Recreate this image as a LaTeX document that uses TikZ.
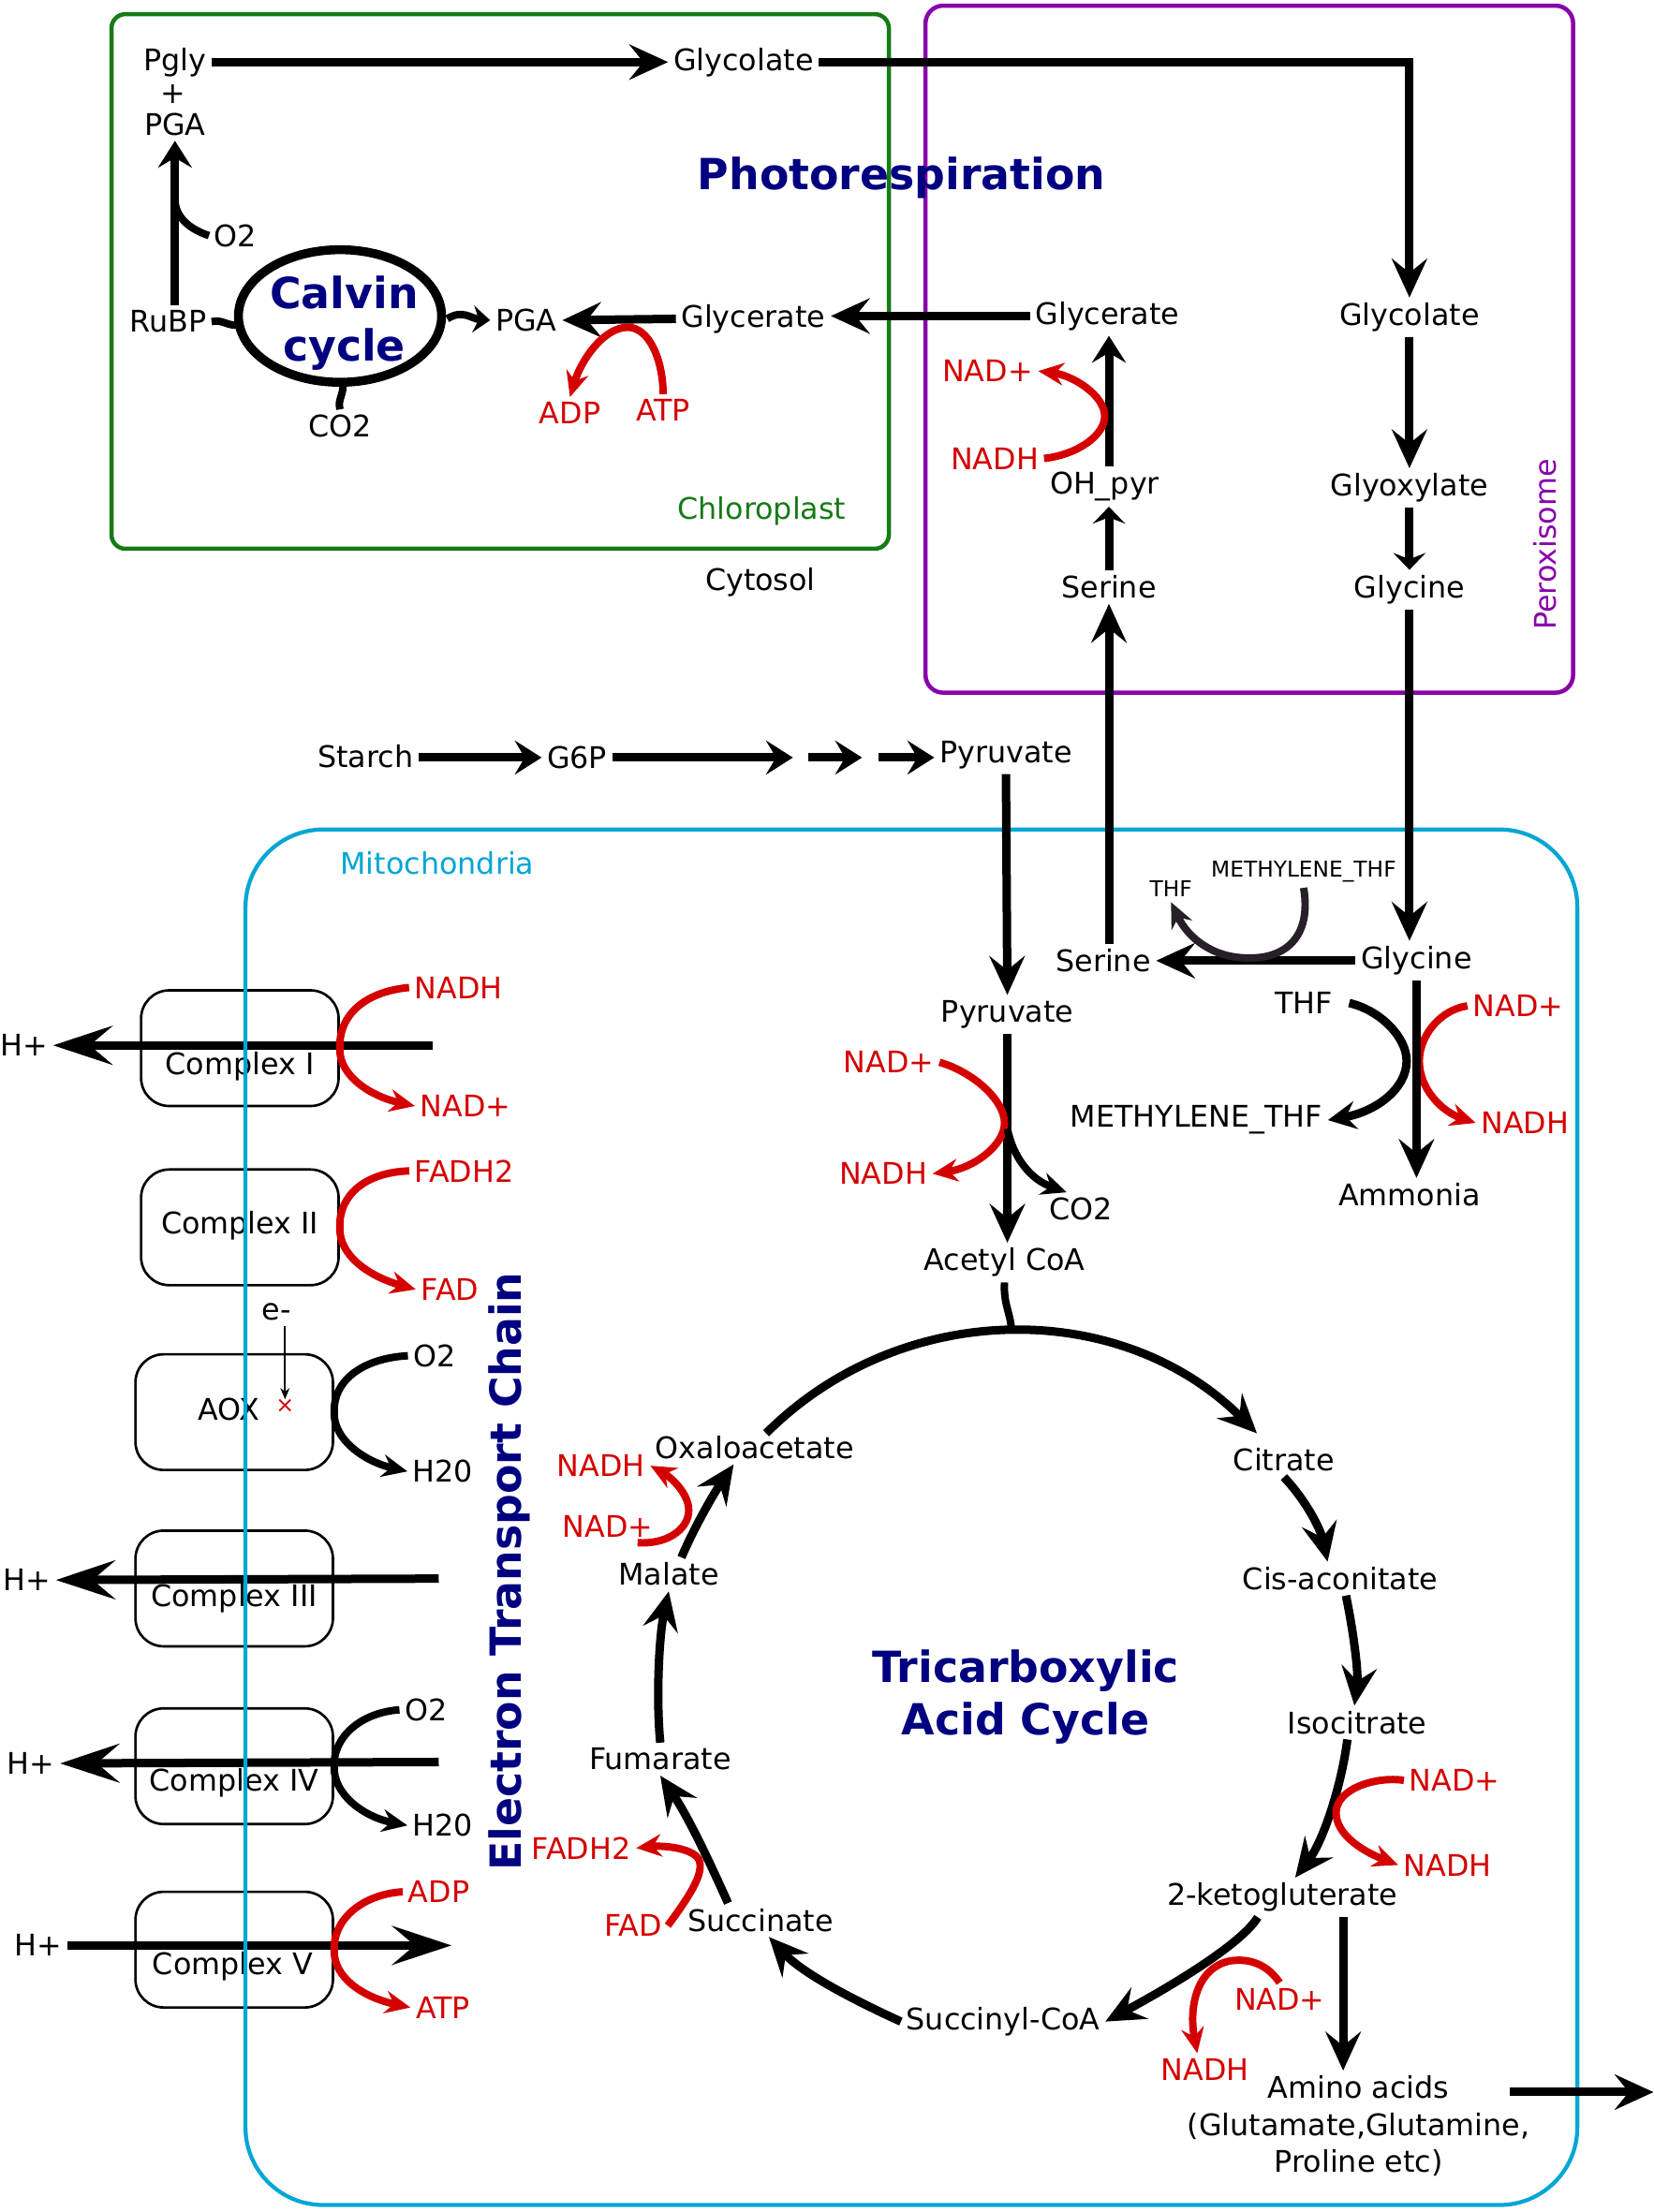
\documentclass[tikz,border=0pt]{standalone}
\usepackage{fontspec}
\setmainfont{DejaVu Sans}
\usetikzlibrary{arrows.meta}
\definecolor{chlgreen}{RGB}{22,122,22}
\definecolor{perpurple}{RGB}{136,0,170}
\definecolor{mitcyan}{RGB}{0,166,212}
\definecolor{navytxt}{RGB}{0,0,128}
\definecolor{redc}{RGB}{212,0,0}
\definecolor{thfarc}{RGB}{40,32,40}
\begin{document}
\begin{tikzpicture}[x=0.2mm,y=-0.2mm,>=Stealth,font=\fontsize{12}{14.8}\selectfont,inner sep=2pt,
  rx/.style={line width=3.4pt,-{Stealth[length=5.5mm,width=5mm,inset=2mm]}},
  rxm/.style={line width=3.4pt,-{Stealth[length=3.8mm,width=4.8mm,inset=1.4mm]}},
  rxs/.style={line width=3.4pt,-{Stealth[length=2.4mm,width=4.6mm,inset=0.9mm]}},
  hx/.style={line width=3.4pt,-{Stealth[length=8.4mm,width=5.5mm,inset=3.2mm]}},
  sx/.style={line width=3pt,-{Stealth[length=3.6mm,width=3.2mm,inset=1.2mm]}},
  rs/.style={sx,draw=redc},
  cof/.style={text=redc},
  stub/.style={line width=3pt},
  bigname/.style={font=\fontsize{17.3}{21}\selectfont\bfseries,text=navytxt,align=center},
  cbox/.style={draw,line width=1pt,rounded corners=4mm,minimum width=28mm,minimum height=16.4mm}]
\useasboundingbox (0,0) rectangle (1172,1568);
\draw[chlgreen,line width=1.7pt,rounded corners=2mm] (79,10) rectangle (630,389);
\draw[perpurple,line width=1.7pt,rounded corners=2.5mm] (656,4) rectangle (1115,491);
% chloroplast
\node (pgly) at (124,44) {Pgly};
\node (plus) at (123,67) {+};
\node (pgaA) at (124,88) {PGA};
\node (glycA) at (527,44) {Glycolate};
\node (rubp) at (119,228) {RuBP};
\node (otwoA) at (167,167) {O2};
\node[bigname] (calvin) at (244,229) {Calvin\\cycle};
\draw[line width=3.6pt] (241,224) ellipse [x radius=14.4mm, y radius=9.4mm];
\node (cotwoA) at (241,302) {CO2};
\node (pgaB) at (373,227) {PGA};
\node (glyrA) at (534,226) {Glycerate};
\node[cof] (adpA) at (404,293) {ADP};
\node[cof] (atpA) at (470,291) {ATP};
\node[text=chlgreen] (chl) at (540,362) {Chloroplast};
\node (cyto) at (539,413) {Cytosol};
\node[bigname] (photo) at (639,126) {Photorespiration};
\draw[rx] (pgly.east) -- (glycA.west);
\draw[rxm] (rubp.north -| pgaA.south) -- (pgaA.south);
\draw[stub] (otwoA.west) .. controls (136,163) and (124,155) .. (124,141);
\draw[stub] (rubp.east) .. controls (158,226) and (162,232) .. (169,230);
\draw[line width=3pt,-{Stealth[length=2.4mm,width=3.8mm,inset=0.8mm]}] (317,226) .. controls (328,219) and (334,226) .. (pgaB.west);
\draw[rx] (glyrA.west) -- (pgaB.east);
\draw[rs] (atpA.north) .. controls (470,255) and (460,232) .. (445,232) .. controls (428,232) and (412,255) .. (adpA.north);
\draw[stub] (cotwoA.north) .. controls (239,283) and (244,280) .. (243,271);
% peroxisome
\node (glyrB) at (785,224) {Glycerate};
\node (glycB) at (999,225) {Glycolate};
\node[cof] (nadpA) at (700,263) {NAD+};
\node[cof] (nadhA) at (705,325) {NADH};
\node (ohpyr) at (783,345) {OH\_pyr};
\node (glyox) at (999,346) {Glyoxylate};
\node (serA) at (786,416) {Serine};
\node (glyA) at (999,418) {Glycine};
\node[text=perpurple,rotate=90] (perox) at (1095,386) {Peroxisome};
\draw[rx] (glycA.east) -| (glycB.north);
\draw[rx] (glyrB.west) -- (glyrB.west -| glyrA.east);
\draw[rxm] (ohpyr.north -| serA) -- (glyrB.south -| serA);
\draw[rxs] (serA.north) -- (ohpyr.south -| serA);
\draw[rs] (nadhA.east) .. controls (765,322) and (783,308) .. (783,295) .. controls (783,280) and (760,266) .. (nadpA.east);
\draw[rx] (glycB.south) -- (glyox.north);
\draw[rxs] (glyox.south) -- (glyA.north);
% cytosol
\node (starch) at (259,536) {Starch};
\node (gsixp) at (409,537) {G6P};
\node (pyrA) at (713,535) {Pyruvate};
\coordinate (gA) at (562,537);
\coordinate (gB) at (573,537);
\coordinate (gC) at (611,537);
\coordinate (gD) at (623,537);
\draw[rxm] (starch.east |- gsixp.west) -- (gsixp.west);
\draw[rxm] (gsixp.east) -- (gA);
\draw[rxm] (gB) -- (gC);
\draw[rxm] (gD) -- (gD -| pyrA.west);
% electron transport chain
\node[cbox] (cI) at (170,743) {};
\node (cIt) at (170,756) {Complex I};
\node[cbox] (cII) at (170,870) {};
\node (cIIt) at (170,869) {Complex II};
\node[cbox] (aox) at (166,1001) {};
\node (aoxt) at (162,999) {AOX};
\node[cbox] (cIII) at (166,1126) {};
\node (cIIIt) at (166,1133) {Complex III};
\node[cbox] (cIV) at (166,1252) {};
\node (cIVt) at (166,1264) {Complex IV};
\node[cbox] (cV) at (166,1382) {};
\node (cVt) at (165,1394) {Complex V};
\node (hI) at (17,741) {H+};
\node (hIII) at (19,1120) {H+};
\node (hIV) at (22,1250) {H+};
\node (hV) at (27,1379) {H+};
\coordinate (eI) at (307,741);
\coordinate (eIII) at (311,1119);
\coordinate (eIV) at (311,1249);
\coordinate (eV) at (320,1379);
\node[cof] (nadhG) at (325,700) {NADH};
\node[cof] (nadpG) at (330,784) {NAD+};
\node[cof] (fadhG) at (329,830) {FADH2};
\node[cof] (fadG) at (319,914) {FAD};
\node (em) at (196,930) {e-};
\node[text=redc,inner sep=0pt,font=\fontsize{9}{10}\selectfont] (xm) at (202,997) {×};
\node (otwoB) at (308,961) {O2};
\node (htwoB) at (314,1043) {H20};
\node (otwoC) at (302,1212) {O2};
\node (htwoC) at (314,1294) {H20};
\node[cof] (adpG) at (311,1341) {ADP};
\node[cof] (atpG) at (314,1423) {ATP};
\node[bigname,rotate=90] (etc) at (361,1114) {Electron Transport Chain};
\draw[hx] (eI) -- (hI.east);
\draw[hx] (eIII) -- (hIII.east);
\draw[hx] (eIV) -- (hIV.east);
\draw[hx] (hV.east) -- (eV);
\draw[rs] (nadhG.west) .. controls (258,703) and (240,720) .. (cI.east) .. controls (240,762) and (262,777) .. (nadpG.west);
\draw[rs] (fadhG.west) .. controls (258,831) and (240,848) .. (cII.east) .. controls (240,890) and (262,905) .. (fadG.west);
\draw[sx] (otwoB.west) .. controls (255,963) and (236,980) .. (aox.east) .. controls (236,1020) and (258,1036) .. (htwoB.west);
\draw[sx] (otwoC.west) .. controls (255,1214) and (236,1232) .. (cIV.east) .. controls (236,1272) and (258,1288) .. (htwoC.west);
\draw[rs] (adpG.west) .. controls (255,1343) and (236,1362) .. (cV.east) .. controls (236,1402) and (258,1416) .. (atpG.west);
\draw[line width=0.6pt,-{Stealth[length=1.6mm,width=1.3mm]}] (em.south -| xm.north) -- (xm.north);
\draw[mitcyan,line width=1.6pt,rounded corners=11mm] (174,588) rectangle (1118,1563);
% mitochondria
\node[text=mitcyan] (mito) at (310,612) {Mitochondria};
\node[font=\fontsize{8.8}{10}\selectfont] (methA) at (924,618) {METHYLENE\_THF};
\node[font=\fontsize{8.8}{10}\selectfont] (thfA) at (830,630) {THF};
\node (serB) at (782,681) {Serine};
\node (glyB) at (1004,681) {Glycine};
\node (thfB) at (924,711) {THF};
\node[cof] (nadpB) at (1076,713) {NAD+};
\node (methB) at (848,794) {METHYLENE\_THF};
\node[cof] (nadhB) at (1081,796) {NADH};
\node (amm) at (999,847) {Ammonia};
\node (pyrB) at (714,719) {Pyruvate};
\node[cof] (nadpC) at (630,753) {NAD+};
\node[cof] (nadhC) at (626,832) {NADH};
\node (cotwoB) at (766,857) {CO2};
\node (acoa) at (712,895) {Acetyl CoA};
\coordinate (pyrfork) at (714,800);
\draw[rx] (glyA.south) -- (glyA.south |- glyB.north);
\draw[rx] (serB.north -| serA) -- (serA.south);
\draw[rx] (pyrA.south) -- (pyrB.north);
\draw[rx] (glyB.west) -- (serB.east);
\draw[sx,draw=thfarc] (methA.south) .. controls (930,665) and (910,680) .. (884,679) .. controls (860,679) and (842,665) .. (thfA.south);
\draw[line width=3.4pt,-{Stealth[length=4mm,width=4mm,inset=1.4mm]}] ([xshift=1.6mm]thfB.east) .. controls (978,716) and (997,735) .. (997,752) .. controls (997,772) and (975,788) .. (methB.east);
\draw[rs] (nadpB.west) .. controls (1020,716) and (1006,735) .. (1006,752) .. controls (1006,772) and (1022,788) .. (nadhB.west);
\draw[rx] (glyB.south) -- (glyB.south |- amm.north);
\draw[rx] (pyrB.south) -- (acoa.north -| pyrB);
\draw[rs] (nadpC.east) .. controls (690,760) and (712,780) .. (712,796) .. controls (712,812) and (690,828) .. (nadhC.east);
\draw[sx] (pyrfork) .. controls (718,820) and (730,836) .. (cotwoB.130);
% tricarboxylic acid cycle
\node (oxa) at (535,1026) {Oxaloacetate};
\node (cit) at (910,1035) {Citrate};
\node (cis) at (950,1119) {Cis-aconitate};
\node (iso) at (962,1221) {Isocitrate};
\node (kg) at (909,1345) {2-ketogluterate};
\node (sca) at (711,1433) {Succinyl-CoA};
\node (suc) at (539,1361) {Succinate};
\node (fum) at (468,1247) {Fumarate};
\node (mal) at (474,1116) {Malate};
\node[cof] (nadhD) at (426,1039) {NADH};
\node[cof] (nadpD) at (431,1082) {NAD+};
\node[cof] (fadhD) at (412,1310) {FADH2};
\node[cof] (fadD) at (449,1365) {FAD};
\node[cof] (nadpE) at (1031,1262) {NAD+};
\node[cof] (nadhE) at (1026,1322) {NADH};
\node[cof] (nadpF) at (907,1417) {NAD+};
\node[cof] (nadhF) at (854,1467) {NADH};
\node[align=center] (amino) at (963,1507) {Amino acids\\(Glutamate,Glutamine,\\Proline etc)};
\node[bigname] (tca) at (727,1203) {Tricarboxylic\\Acid Cycle};
\coordinate (tcaL) at (543,1016);
\coordinate (amfree) at (1070,1483);
\coordinate (outlet) at (1172,1483);
\draw[stub] (acoa.south) .. controls (711,925) and (717,932) .. (717,945);
\draw[rx] (tcaL) arc[start angle=135,end angle=45,radius=49.2mm];
\draw[rx] (cit.south) .. controls (926,1064) and (936,1084) .. ([xshift=-1.8mm]cis.north);
\draw[rx] ([xshift=0.8mm]cis.south) .. controls (959,1155) and (963,1185) .. ([xshift=-0.4mm]iso.north);
\draw[rx] ([xshift=-1.4mm]iso.south) .. controls (951,1265) and (938,1305) .. ([xshift=1.8mm]kg.north);
\draw[rs] (nadpE.west) .. controls (975,1259) and (947,1268) .. (947,1285) .. controls (947,1300) and (965,1312) .. (nadhE.west);
\draw[rx] ([xshift=-3.5mm]kg.south) .. controls (880,1378) and (830,1408) .. (sca.east);
\draw[rs] (nadpF.north) .. controls (898,1392) and (885,1388) .. (872,1390) .. controls (850,1394) and (842,1420) .. (nadhF.115);
\draw[rx] ([xshift=8.6mm]kg.south) -- ([xshift=8.6mm]kg.south |- amino.north);
\draw[rx] (amfree) -- (outlet);
\draw[rx] (sca.west) .. controls (610,1420) and (570,1400) .. ([xshift=1.2mm]suc.south);
\draw[rx] ([xshift=-4.6mm]suc.north) .. controls (503,1320) and (488,1288) .. (fum.south);
\draw[rs] (fadD.east) .. controls (488,1345) and (498,1330) .. (496,1320) .. controls (494,1310) and (470,1308) .. (fadhD.east);
\draw[rx] (fum.north) .. controls (465,1205) and (467,1160) .. (mal.south);
\draw[rx] ([xshift=1.8mm]mal.north) .. controls (491,1085) and (505,1060) .. ([xshift=-3mm]oxa.south);
\draw[rs] ([xshift=-3mm]nadpD.south east) .. controls (475,1095) and (490,1082) .. (488,1068) .. controls (486,1055) and (472,1045) .. (nadhD.east);
\end{tikzpicture}
\end{document}
